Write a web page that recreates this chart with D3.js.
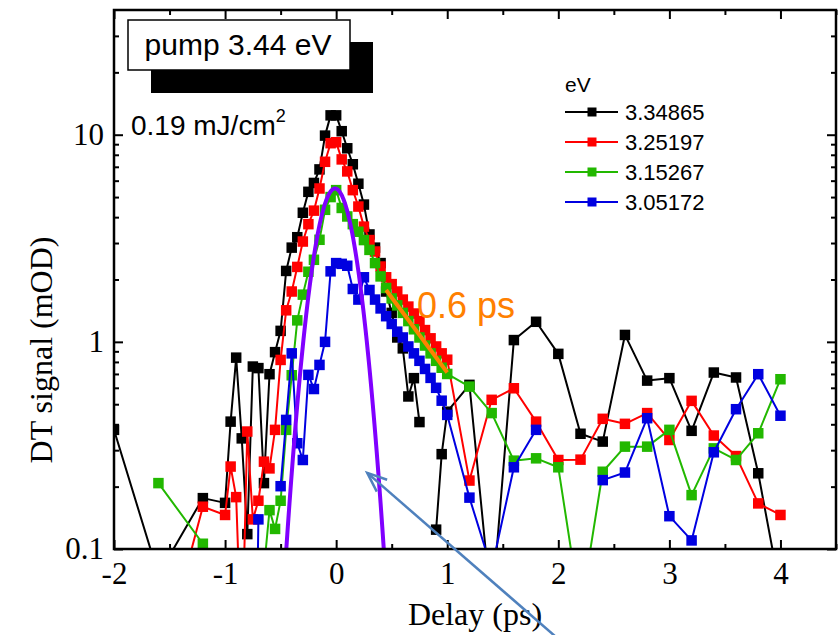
<!DOCTYPE html>
<html>
<head>
<meta charset="utf-8">
<script src="https://cdn.jsdelivr.net/npm/d3@7"></script>
<style>
  body { margin: 0; background: #fff; }
  svg { display: block; }
</style>
</head>
<body>
<svg id="chart" width="838" height="635"></svg>
<script>
// Pump-probe delays (ps): sparse before -1 ps, 50 fs steps around zero, 200 fs steps after 1 ps
const delays = [-2.0, -1.6, -1.2,
  -1.0, -0.95, -0.9, -0.85, -0.8, -0.75, -0.7, -0.65, -0.6, -0.55, -0.5, -0.45, -0.4, -0.35, -0.3, -0.25, -0.2, -0.15, -0.1, -0.05, 0,
  0.05, 0.1, 0.15, 0.2, 0.25, 0.3, 0.35, 0.4, 0.45, 0.5, 0.55, 0.6, 0.65, 0.7, 0.75, 0.8, 0.85, 0.9, 0.95, 1.0,
  1.2, 1.4, 1.6, 1.8, 2.0, 2.2, 2.4, 2.6, 2.8, 3.0, 3.2, 3.4, 3.6, 3.8, 4.0];

// DT signal (mOD) per probe energy; null = no valid (positive) value
const dt334865 = [0.376, 0.075, 0.176,
  0.167, 0.412, 0.839, 0.342, 0.118, 0.76, 0.747, 0.208, 0.698, 0.892, 1.13, 2.2, 2.85, 3.2, 4.2, 5.3, 5.85, 6.8, 9.9, 12.4, 12.4,
  10.4, 8.6, 7.2, 5.8, 4.6, 3.3, 2.85, 2.4, 1.75, 1.38, 1.05, 0.93, 0.545, 0.668, 0.41, null, null, 0.124, 0.287, 0.46,
  0.62, 0.05, 1.02, 1.25, 0.875, 0.36, 0.33, 1.08, 0.65, 0.668, 0.372, 0.711, 0.673, 0.232, 0.062];

const dt325197 = [null, 0.025, 0.160,
  0.146, 0.25, 0.178, 0.03, 0.369, 0.139, 0.171, 0.264, 0.245, 0.376, 0.818, 1.42, 1.75, 2.3, 3.05, 3.7, 4.3, 5.5, 7.4, 9.1, 9.2,
  7.6, 6.65, 5.4, 4.5, 3.6, 3.1, 2.73, 2.31, 2.05, 1.9, 1.75, 1.6, 1.48, 1.37, 1.26, 1.14, 1.04, 0.95, 0.88, 0.82,
  0.214, 0.525, 0.597, 0.412, 0.269, 0.27, 0.425, 0.402, 0.453, 0.336, 0.519, 0.353, 0.281, 0.166, 0.146];

const dt315267 = [null, 0.208, 0.106,
  null, null, null, null, null, null, null, 0.08, 0.154, 0.125, 0.171, 0.376, 0.69, 1.27, 1.69, 2.18, 2.49, 3.11, 4.34, 5.0, 5.4,
  4.43, 4.03, 3.7, 3.4, 3.1, 2.78, 2.4, 2.07, 1.82, 1.62, 1.5, 1.38, 1.26, 1.15, 1.05, 0.96, 0.88, 0.81, 0.75, 0.70,
  0.608, 0.453, 0.267, 0.274, 0.248, 0.05, 0.236, 0.312, 0.312, 0.376, 0.182, 0.306, 0.269, 0.362, 0.66];

const dt305172 = [null, null, null,
  null, null, null, null, null, 0.002, 0.139, null, null, null, 0.201, 0.42, 0.88, 0.324, 0.269, 0.693, 0.592, 0.774, 1.0, 2.19, 2.4,
  2.38, 2.33, 1.8, 1.6, 2.05, 1.78, 1.6, 1.45, 1.33, 1.22, 1.12, 1.05, 0.95, 0.88, 0.81, 0.74, 0.67, 0.6, 0.52, 0.444,
  0.177, 0.08, 0.248, 0.376, null, null, 0.215, 0.234, 0.428, 0.144, 0.110, 0.293, 0.473, 0.698, 0.44];

const seriesNames = ["3.34865", "3.25197", "3.15267", "3.05172"];
const seriesValues = [dt334865, dt325197, dt315267, dt305172];
const seriesColors = ["#000000", "#ff0000", "#22b800", "#0000e0"];

// Pump pulse cross-correlation (Gaussian): peak mOD, centre ps, sigma ps
const pulsePeak = 5.5, pulseCenter = -0.01, pulseSigma = 0.155;
// Single-exponential decay fit
const fitTau = 0.6, fitStart = 0.45, fitEnd = 1.0, fitStartValue = 1.78;

const xMajor = [-2, -1, 0, 1, 2, 3, 4];
const xMinor = [-1.5, -0.5, 0.5, 1.5, 2.5, 3.5, 4.5];
const yMajor = [0.1, 1, 10];
const yMinor = [0.2, 0.3, 0.4, 0.5, 0.6, 0.7, 0.8, 0.9, 2, 3, 4, 5, 6, 7, 8, 9, 20, 30];

// Arrow pointing at the pulse profile (data coordinates)
const arrowTip = { t: 0.28, v: 0.233 };
const arrowTail = { t: 2.02, v: 0.036 };

const svg = d3.select("#chart");
const plot = { left: 114, right: 836, top: 10, bottom: 549 };

const x = d3.scaleLinear().domain([-2, 4.5]).range([plot.left, plot.right]);
const y = d3.scaleLog().domain([0.1, 40]).range([plot.bottom, plot.top]);

svg.append("defs").append("clipPath").attr("id", "plotClip")
  .append("rect")
  .attr("x", plot.left).attr("y", plot.top)
  .attr("width", plot.right - plot.left).attr("height", plot.bottom - plot.top);

const serif = "'Liberation Serif', 'Times New Roman', serif";
const sans = "'Liberation Sans', Arial, sans-serif";

// ---- data ----
const dataG = svg.append("g").attr("clip-path", "url(#plotClip)");
const line = d3.line()
  .defined(d => d.v != null)
  .x(d => x(d.t))
  .y(d => y(d.v));

seriesValues.forEach((vals, i) => {
  const pts = delays.map((t, k) => ({ t, v: vals[k] }));
  dataG.append("path")
    .datum(pts)
    .attr("d", line)
    .attr("fill", "none")
    .attr("stroke", seriesColors[i])
    .attr("stroke-width", 2)
    .attr("stroke-linejoin", "round");
  const ms = 10.5;
  dataG.selectAll(null)
    .data(pts.filter(d => d.v != null))
    .join("rect")
    .attr("x", d => x(d.t) - ms / 2)
    .attr("y", d => y(d.v) - ms / 2)
    .attr("width", ms).attr("height", ms)
    .attr("fill", seriesColors[i]);
});

// pulse profile
const pulsePts = d3.range(-0.6, 0.6001, 0.005).map(t => ({
  t, v: pulsePeak * Math.exp(-((t - pulseCenter) ** 2) / (2 * pulseSigma ** 2))
}));
dataG.append("path")
  .datum(pulsePts)
  .attr("d", d3.line().x(d => x(d.t)).y(d => y(d.v)))
  .attr("fill", "none")
  .attr("stroke", "#8000ff")
  .attr("stroke-width", 4);

// exponential fit
const fitPts = [fitStart, fitEnd].map(t => ({ t, v: fitStartValue * Math.exp(-(t - fitStart) / fitTau) }));
dataG.append("path")
  .datum(fitPts)
  .attr("d", d3.line().x(d => x(d.t)).y(d => y(d.v)))
  .attr("stroke", "#ff8000")
  .attr("stroke-width", 4)
  .attr("fill", "none");

svg.append("text")
  .attr("x", 417).attr("y", 318)
  .attr("font-family", sans).attr("font-size", 36)
  .attr("fill", "#ff8000")
  .text(fitTau + " ps");

// ---- axes ----
function styleAxis(g) {
  g.select(".domain").remove();
  g.selectAll(".tick line").attr("stroke", "#000").attr("stroke-width", 2);
  g.selectAll(".tick text").attr("font-family", serif).attr("font-size", 31).attr("fill", "#000");
}
const plain = d => String(d);

svg.append("g").attr("transform", `translate(0,${plot.bottom})`)
  .call(d3.axisBottom(x).tickValues(xMajor).tickSize(-9).tickPadding(13).tickFormat(plain))
  .call(styleAxis);
svg.append("g").attr("transform", `translate(0,${plot.bottom})`)
  .call(d3.axisBottom(x).tickValues(xMinor).tickSize(-5).tickFormat(""))
  .call(styleAxis);
svg.append("g").attr("transform", `translate(0,${plot.top})`)
  .call(d3.axisTop(x).tickValues(xMajor).tickSize(-9).tickFormat(""))
  .call(styleAxis);
svg.append("g").attr("transform", `translate(0,${plot.top})`)
  .call(d3.axisTop(x).tickValues(xMinor).tickSize(-5).tickFormat(""))
  .call(styleAxis);

svg.append("g").attr("transform", `translate(${plot.left},0)`)
  .call(d3.axisLeft(y).tickValues(yMajor).tickSize(-9).tickPadding(10).tickFormat(plain))
  .call(styleAxis);
svg.append("g").attr("transform", `translate(${plot.left},0)`)
  .call(d3.axisLeft(y).tickValues(yMinor).tickSize(-5).tickFormat(""))
  .call(styleAxis);
svg.append("g").attr("transform", `translate(${plot.right},0)`)
  .call(d3.axisRight(y).tickValues(yMajor).tickSize(-9).tickFormat(""))
  .call(styleAxis);
svg.append("g").attr("transform", `translate(${plot.right},0)`)
  .call(d3.axisRight(y).tickValues(yMinor).tickSize(-5).tickFormat(""))
  .call(styleAxis);

svg.append("rect")
  .attr("x", plot.left).attr("y", plot.top)
  .attr("width", plot.right - plot.left).attr("height", plot.bottom - plot.top)
  .attr("fill", "none").attr("stroke", "#000").attr("stroke-width", 2.5);

svg.append("text")
  .attr("x", (plot.left + plot.right) / 2).attr("y", 625)
  .attr("text-anchor", "middle")
  .attr("font-family", serif).attr("font-size", 32)
  .text("Delay (ps)");

svg.append("text")
  .attr("transform", "translate(52,350) rotate(-90)")
  .attr("text-anchor", "middle")
  .attr("font-family", serif).attr("font-size", 32)
  .text("DT signal (mOD)");

// ---- annotations ----
svg.append("rect").attr("x", 151).attr("y", 42).attr("width", 222).attr("height", 51).attr("fill", "#000");
svg.append("rect").attr("x", 128).attr("y", 20).attr("width", 222).attr("height", 50)
  .attr("fill", "#fff").attr("stroke", "#000").attr("stroke-width", 1.5);
svg.append("text")
  .attr("x", 238).attr("y", 55)
  .attr("text-anchor", "middle")
  .attr("font-family", sans).attr("font-size", 30)
  .text("pump 3.44 eV");

const flu = svg.append("text")
  .attr("x", 131).attr("y", 135)
  .attr("font-family", sans).attr("font-size", 28);
flu.append("tspan").text("0.19 mJ/cm");
flu.append("tspan").attr("font-size", 18).attr("dy", -13).text("2");

// legend
const leg = svg.append("g").attr("font-family", sans);
leg.append("text").attr("x", 565).attr("y", 92).attr("font-size", 21).text("eV");
seriesNames.forEach((name, i) => {
  const ly = 112 + i * 30;
  leg.append("line").attr("x1", 565).attr("x2", 618).attr("y1", ly).attr("y2", ly)
    .attr("stroke", seriesColors[i]).attr("stroke-width", 2);
  leg.append("rect").attr("x", 592 - 4.5).attr("y", ly - 4.5).attr("width", 9).attr("height", 9)
    .attr("fill", seriesColors[i]);
  leg.append("text").attr("x", 625).attr("y", ly + 8).attr("font-size", 22).text(name);
});

// arrow
const ax1 = x(arrowTail.t), ay1 = y(arrowTail.v);
const ax2 = x(arrowTip.t), ay2 = y(arrowTip.v);
const ang = Math.atan2(ay1 - ay2, ax1 - ax2);
const headLen = 21, headSpread = 22 * Math.PI / 180;
const arrowColor = "#4f81bd";
svg.append("line").attr("x1", ax1).attr("y1", ay1).attr("x2", ax2).attr("y2", ay2)
  .attr("stroke", arrowColor).attr("stroke-width", 2.5);
svg.append("path")
  .attr("d", `M${ax2 + headLen * Math.cos(ang - headSpread)},${ay2 + headLen * Math.sin(ang - headSpread)}
              L${ax2},${ay2}
              L${ax2 + headLen * Math.cos(ang + headSpread)},${ay2 + headLen * Math.sin(ang + headSpread)}`)
  .attr("fill", "none").attr("stroke", arrowColor).attr("stroke-width", 2.5)
  .attr("stroke-linejoin", "miter");
</script>
</body>
</html>
